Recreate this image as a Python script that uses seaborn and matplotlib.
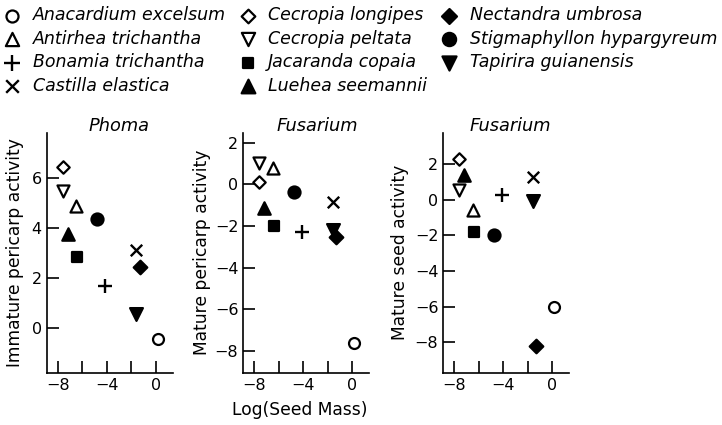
import matplotlib
matplotlib.use('Agg')
import matplotlib.pyplot as plt
import seaborn as sns
import pandas as pd

species = ['Anacardium excelsum', 'Antirhea trichantha', 'Bonamia trichantha',
           'Castilla elastica', 'Cecropia longipes', 'Cecropia peltata',
           'Jacaranda copaia', 'Luehea seemannii', 'Nectandra umbrosa',
           'Stigmaphyllon hypargyreum', 'Tapirira guianensis']
log_seed_mass = [0.15, -6.5, -4.15, -1.62, -7.6, -7.6, -6.4, -7.2, -1.3, -4.8, -1.6]
immature_pericarp = [-0.42, 4.87, 1.67, 3.11, 6.42, 5.47, 2.83, 3.74, 2.43, 4.34, 0.58]
mature_pericarp = [-7.6, 0.77, -2.27, -0.83, 0.12, 1.01, -2.0, -1.15, -2.55, -0.37, -2.2]
mature_seed = [-6.02, -0.6, 0.28, 1.27, 2.28, 0.52, -1.83, 1.35, -8.19, -2.0, -0.1]

titles = ['Phoma', 'Fusarium', 'Fusarium']
ylabels = ['Immature pericarp activity', 'Mature pericarp activity', 'Mature seed activity']
columns = ['immature_pericarp', 'mature_pericarp', 'mature_seed']

df = pd.DataFrame({'species': species, 'log_mass': log_seed_mass,
                   'immature_pericarp': immature_pericarp,
                   'mature_pericarp': mature_pericarp,
                   'mature_seed': mature_seed})

# marker, filled?, size
markers = {
    'Anacardium excelsum': ('o', False, 62),
    'Antirhea trichantha': ('^', False, 75),
    'Bonamia trichantha': ('+', True, 100),
    'Castilla elastica': ('x', True, 68),
    'Cecropia longipes': ('D', False, 40),
    'Cecropia peltata': ('v', False, 75),
    'Jacaranda copaia': ('s', True, 48),
    'Luehea seemannii': ('^', True, 80),
    'Nectandra umbrosa': ('D', True, 48),
    'Stigmaphyllon hypargyreum': ('o', True, 75),
    'Tapirira guianensis': ('v', True, 85),
}

sns.set_style('ticks')
plt.rcParams['font.family'] = ['DejaVu Sans']
plt.rcParams['text.color'] = 'black'
plt.rcParams['axes.labelcolor'] = 'black'
plt.rcParams['xtick.color'] = 'black'
plt.rcParams['ytick.color'] = 'black'

W, H = 722, 425
fig = plt.figure(figsize=(W / 100, H / 100), dpi=100)

lefts = [46.7, 243.3, 443.3]
ax_w, ax_top, ax_bot = 126, 132.7, 372.7
ylims = [(-1.78, 7.8), (-9.04, 2.48), (-9.69, 3.74)]
yticks = [[0, 2, 4, 6], [-8, -6, -4, -2, 0, 2], [-8, -6, -4, -2, 0, 2]]
ylab_off = [31.7, 41.6, 43.3]
title_x = [0.576, 0.587, 0.535]

axes = []
for i in range(3):
    ax = fig.add_axes([lefts[i] / W, 1 - ax_bot / H, ax_w / W, (ax_bot - ax_top) / H])
    axes.append(ax)
    for sp in species:
        mk, filled, s = markers[sp]
        sub = df[df['species'] == sp]
        if mk in ('+', 'x'):
            sns.scatterplot(data=sub, x='log_mass', y=columns[i], marker=mk, s=s,
                            color='black', linewidth=1.7, ax=ax, label=sp, legend=False)
        else:
            sns.scatterplot(data=sub, x='log_mass', y=columns[i], marker=mk, s=s,
                            facecolor='black' if filled else 'white',
                            edgecolor='black', linewidth=1.6, ax=ax, label=sp, legend=False)
    if ax.get_legend() is not None:
        ax.get_legend().remove()

    ax.set_xlim(-8.9, 1.38)
    ax.set_ylim(*ylims[i])
    ax.set_xticks([-8, -6, -4, -2, 0])
    ax.set_xticklabels(['\u22128', '', '\u22124', '', '0'])
    ax.set_yticks(yticks[i])
    ax.set_yticklabels([('\u2212' + str(-t)) if t < 0 else str(t) for t in yticks[i]])
    ax.tick_params(direction='in', length=8.4, width=1.2, labelsize=11.5, pad=3.6,
                   colors='black')
    for side in ['top', 'right']:
        ax.spines[side].set_visible(False)
    for side in ['left', 'bottom']:
        ax.spines[side].set_linewidth(1.2)
        ax.spines[side].set_color('black')
    ax.set_xlabel('')
    ax.set_ylabel(ylabels[i], fontsize=12.3, va='center', color='black')
    ax.yaxis.set_label_coords(-ylab_off[i] / ax_w, 0.5)
    ax.text(title_x[i], 1 + 2 / 240, titles[i], transform=ax.transAxes, ha='center',
            va='baseline', fontsize=12.8, style='italic', color='black')

fig.text(300 / W, 1 - 410 / H, 'Log(Seed Mass)', ha='center', va='center',
         fontsize=12.3, color='black')

handles, labels = axes[0].get_legend_handles_labels()
fig.legend(handles, labels, loc='upper left', bbox_to_anchor=(5.0 / W, 1 - 6.5 / H),
           ncol=3, frameon=False, borderpad=0, borderaxespad=0, markerscale=1.1,
           handlelength=0.85, handletextpad=0.75, columnspacing=0.85,
           labelspacing=0.31, prop={'style': 'italic', 'size': 12.5})

fig.savefig('out.png', dpi=100)
